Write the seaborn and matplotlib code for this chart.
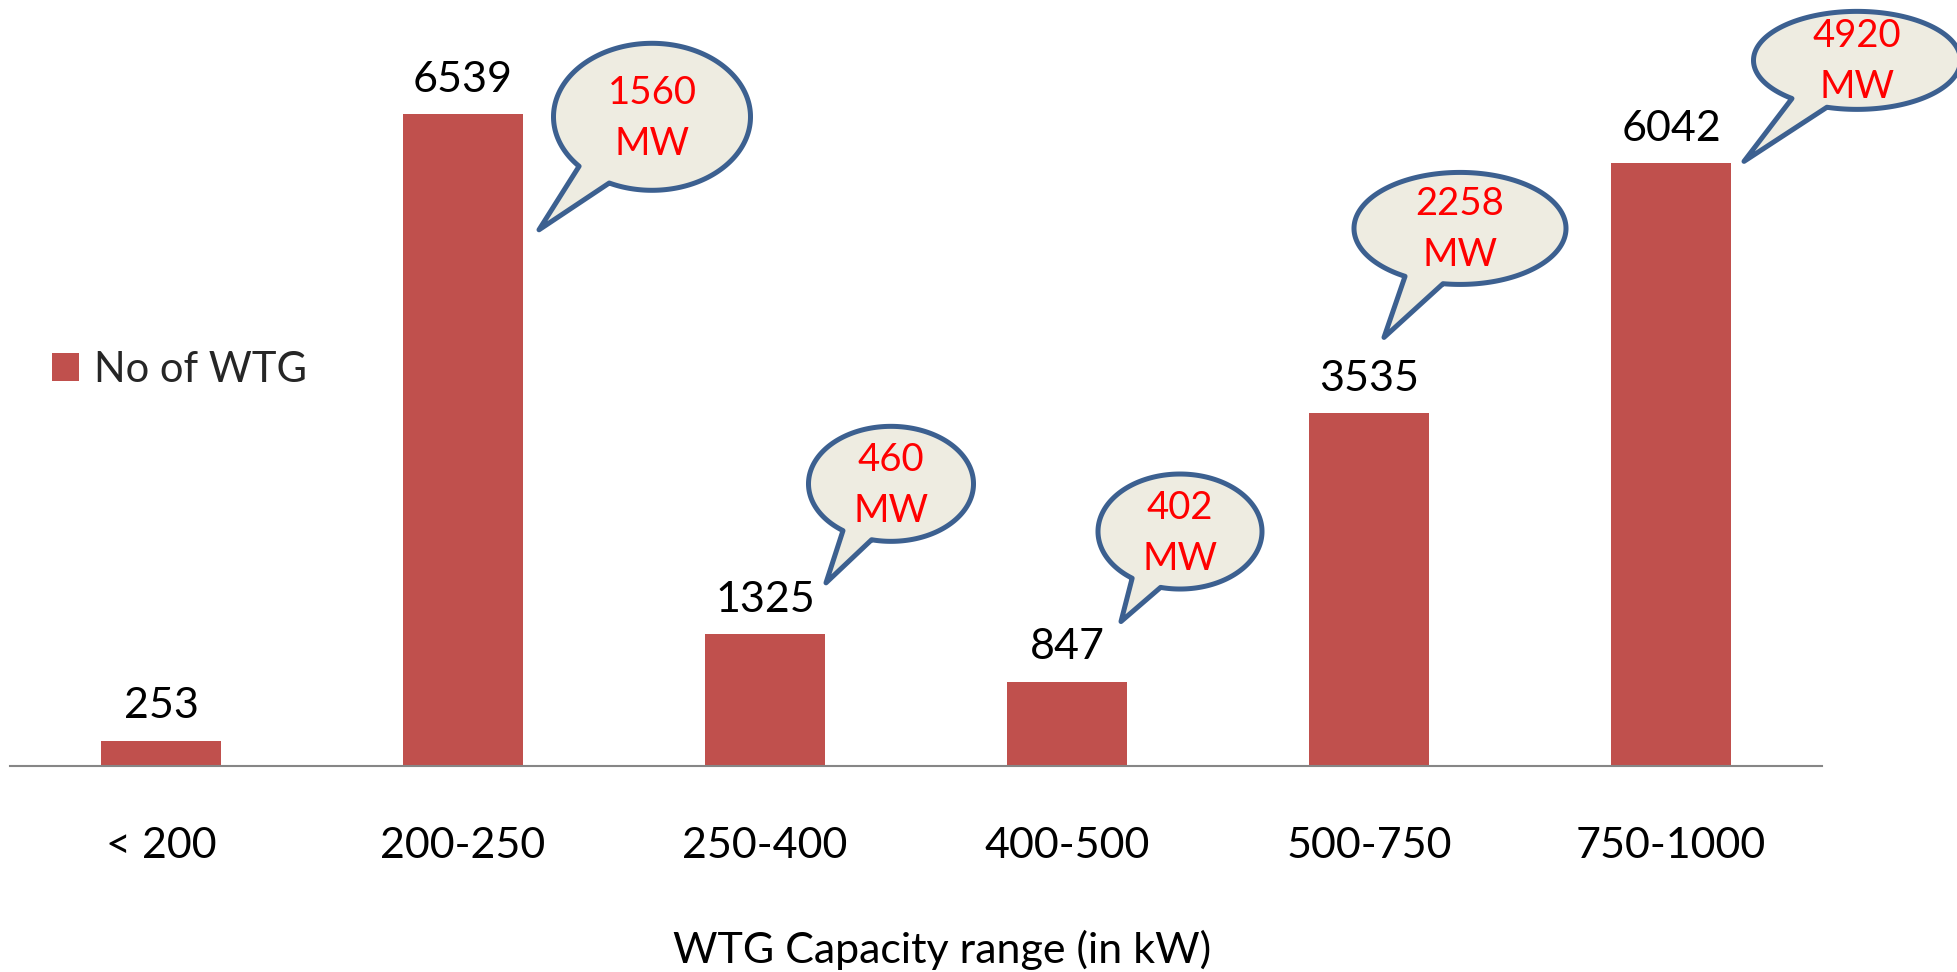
import numpy as np
import pandas as pd
import matplotlib
matplotlib.use("Agg")
import matplotlib.pyplot as plt
import matplotlib.transforms as mtransforms
from matplotlib.patches import Polygon
import seaborn as sns

# ---- data ----
categories = ["< 200", "200-250", "250-400", "400-500", "500-750", "750-1000"]
wtg_counts = [253, 6539, 1325, 847, 3535, 6042]
capacity_mw = [None, 1560, 460, 402, 2258, 4920]
series_label = "No of WTG"
x_title = "WTG Capacity range (in kW)"

# ---- style ----
BAR = "#C0504D"
BUBBLE_FILL = "#EEECE1"
BUBBLE_EDGE = "#3C6090"
W, H = 1957, 972

sns.set_theme(style="white")
plt.rcParams["font.family"] = ["Lato", "DejaVu Sans"]

fig = plt.figure(figsize=(W / 100, H / 100), dpi=100)
ax = fig.add_axes([10 / W, (H - 766) / H, 1812 / W, 766 / H])

df = pd.DataFrame({"range": categories, "count": wtg_counts})
sns.barplot(data=df, x="range", y="count", color=BAR, saturation=1,
            width=0.4, linewidth=0, ax=ax, label=series_label)
ax.set_xlim(-0.5, 5.5)
ax.set_ylim(0, 7680)

for s in ["top", "right", "left"]:
    ax.spines[s].set_visible(False)
ax.spines["bottom"].set_color("#868686")
ax.spines["bottom"].set_linewidth(1.5)
ax.set_yticks([])
ax.set_xlabel("")
ax.set_ylabel("")
ax.tick_params(axis="x", length=0, pad=44, labelsize=31, labelcolor="black")

ax.bar_label(ax.containers[0], labels=[str(v) for v in wtg_counts],
             padding=11, fontsize=31, color="black")

# legend
leg = ax.legend(loc="center left", bbox_to_anchor=(52 / W, (H - 370) / H),
                bbox_transform=fig.transFigure, frameon=False, fontsize=30,
                handlelength=0.65, handleheight=0.65, handletextpad=0.35,
                borderpad=0, borderaxespad=0)

# x title
fig.text(942 / W, (H - 963) / H, x_title, ha="center", va="baseline",
         fontsize=31, color="black")

# ---- callouts (pixel offsets from bar top-centre; image y down) ----
# (center dx, center dy, width, height, tip dx, tip dy)
layout = {
    1: (189, 3, 197, 147, 76, 116),
    2: (126, -150, 165, 115, 61, -51),
    3: (113, -150, 164, 115, 54, -60),
    4: (91, -185, 212, 112, 15, -76),
    5: (186, -103, 207, 98, 73, -2),
}
ident = mtransforms.IdentityTransform()
spread = np.deg2rad(11)
for i, mw in enumerate(capacity_mw):
    if mw is None:
        continue
    cdx, cdy, bw, bh, tdx, tdy = layout[i]
    ax_, ay_ = ax.transData.transform((i, wtg_counts[i]))
    cx, cy = ax_ + cdx, ay_ - cdy
    tx, ty = ax_ + tdx, ay_ - tdy
    a, b = bw / 2, bh / 2
    phit = np.arctan2((ty - cy) / b, (tx - cx) / a)
    p1, p2 = phit - spread, phit + spread
    ph = np.linspace(p2, p1 + 2 * np.pi, 300)
    pts = np.column_stack([cx + a * np.cos(ph), cy + b * np.sin(ph)])
    pts = np.vstack([pts, [tx, ty]])
    poly = Polygon(pts, closed=True, facecolor=BUBBLE_FILL,
                   edgecolor=BUBBLE_EDGE, linewidth=3.6, joinstyle="round",
                   transform=ident, clip_on=False, zorder=5)
    fig.add_artist(poly)
    for txt, off in [(str(mw), 25.5), ("MW", -25.5)]:
        fig.text(cx / W, (cy + off - 12.5) / H, txt, ha="center",
                 va="baseline", fontsize=27.5, color="#FF0000", zorder=6)

fig.savefig("out.png", dpi=100)
